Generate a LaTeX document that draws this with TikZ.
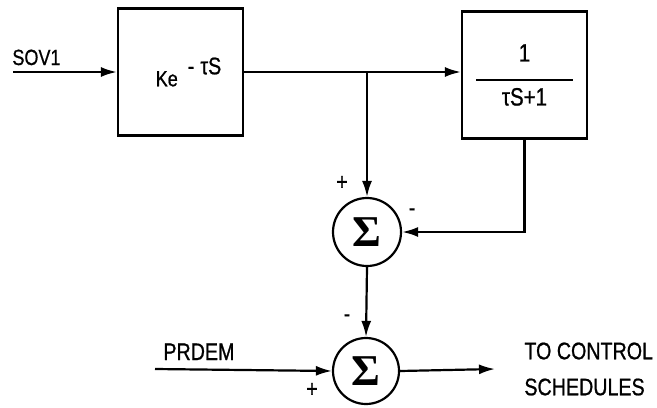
\documentclass[tikz,border=0pt]{standalone}
\usepackage{fontspec}
\setmainfont[FakeStretch=0.82, FakeBold=0.8]{Liberation Sans}
\newfontfamily\sigfont{Liberation Serif}
\usepackage{tikz}
\usetikzlibrary{positioning, calc, arrows.meta}

\begin{document}
\begin{tikzpicture}[
    x=0.5pt, y=-0.5pt,
    block/.style={rectangle, draw, line width=1.1pt, minimum width=62.5pt,
                  minimum height=63.5pt, align=center, inner sep=0pt},
    sum/.style={circle, draw, line width=1.1pt, minimum size=34pt,
                inner sep=0pt, font=\sigfont\bfseries\fontsize{22}{22}\selectfont},
    signal/.style={-{Latex[length=8pt,width=5pt]}, line width=1.1pt},
    lbl/.style={font=\fontsize{12}{16}\selectfont, inner sep=0pt},
    sign/.style={font=\fontsize{12}{12}\selectfont, inner sep=0pt},
  ]
    \useasboundingbox (0,0) rectangle (657,407);

    % blocks
    \node[block, font=\fontsize{11}{12}\selectfont] (delay) at (180.5,72)
      {\hspace{8pt}Ke\hspace{5pt}\raisebox{6pt}{\fontsize{12}{12}\selectfont
       -\hspace{3pt}τS}};
    \node[block, font=\fontsize{12.5}{14}\selectfont] (lag) at (524.5,75)
      {1\\[-4pt]\rule{48.5pt}{1.1pt}\\[-2pt]τS+1};

    % summing points
    \node[sum] (sumA) at (367,232) {Σ};
    \node[sum, minimum size=33pt] (sumB) at (366,371) {Σ};

    % signals
    \coordinate (in1) at (13,72);
    \coordinate (in2) at (155,369);
    \coordinate (out) at (495,369);
    \coordinate (br) at (sumA.north |- delay.east);

    \node[lbl, anchor=base west, font=\fontsize{11}{12}\selectfont] (sov) at (12,65) {SOV1};
    \node[lbl, anchor=base west] (prdem) at (163,360) {PRDEM};
    \node[lbl, anchor=west, align=left] (ctrl) at (524,369)
      {TO CONTROL\\[2pt]SCHEDULES};

    \draw[signal] (in1) -- (delay.west);
    \draw[signal] (delay.east) -- (delay.east -| lag.west);
    \draw[signal] (br) -- (sumA.north);
    \draw[signal] (lag.south) |- (sumA.east);
    \draw[signal] (sumA.south) -- (sumB.north);
    \draw[signal] (in2) -- (sumB.west);
    \draw[signal] (sumB.east) -- (out);

    % signs
    \node[sign] (pA) at (342,183) {+};
    \node[sign] (mA) at (412,212) {-};
    \node[sign] (mB) at (347,318) {-};
    \node[sign] (pB) at (312,390) {+};
  \end{tikzpicture}
\end{document}
